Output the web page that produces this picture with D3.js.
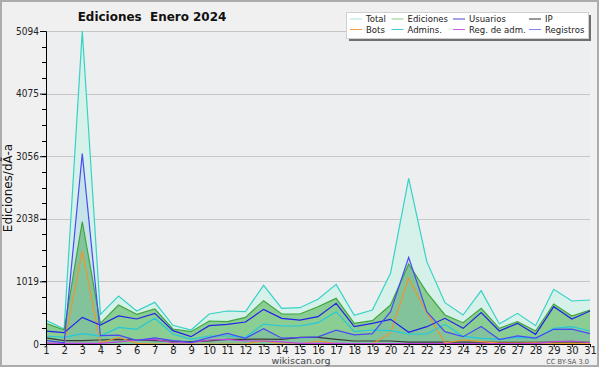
<!DOCTYPE html>
<html>
<head>
<meta charset="utf-8">
<script src="https://cdn.jsdelivr.net/npm/d3@7"></script>
<style>
  body { margin: 0; background: #fff; }
  svg text { font-family: "DejaVu Sans", sans-serif; }
</style>
</head>
<body>
<svg id="chart" width="600" height="370"></svg>
<script>
"use strict";

// data (edits per day, January 2024)
var days = [1,2,3,4,5,6,7,8,9,10,11,12,13,14,15,16,17,18,19,20,21,22,23,24,25,26,27,28,29,30,31];
var total     = [385,245,5094,483,781,537,678,304,228,488,537,526,955,580,591,727,971,467,553,1150,2696,1340,672,472,868,325,499,298,890,700,716];
var ediciones = [336,228,1990,336,634,483,570,244,201,374,363,434,705,488,488,607,743,336,380,634,1302,840,472,347,580,255,363,211,651,456,553];
var usuarios  = [211,184,434,309,456,407,499,217,119,298,320,358,564,418,390,445,662,282,336,401,190,282,418,255,510,211,336,157,607,407,537];
var ip        = [100,55,54,65,76,65,55,45,40,50,76,76,80,76,109,109,76,49,49,49,30,30,30,30,30,25,25,25,30,30,25];
var bots      = [5,0,1510,15,109,10,0,0,0,0,0,0,50,0,0,49,5,0,0,180,1075,510,20,65,38,15,15,20,10,10,5];
var admins    = [130,109,168,130,271,239,418,163,76,130,130,109,325,293,293,347,526,201,228,217,163,163,320,125,92,76,109,92,255,282,211];
var regAdm    = [15,10,10,10,33,65,76,20,20,65,76,49,49,33,10,10,10,5,5,5,5,5,5,5,5,5,5,5,38,49,20];
var registros = [60,20,3100,135,145,60,100,55,28,105,174,92,250,95,105,115,225,150,168,526,1410,526,201,119,285,72,133,95,239,242,168];

var yTicks = [0,1019,2038,3056,4075,5094];
var legendNames = ["Total","Ediciones","Usuarios","IP","Bots","Admins.","Reg. de adm.","Registros"];

var svg = d3.select("#chart");
var m = {left: 46, right: 590, top: 31, bottom: 344};

var x = d3.scaleLinear().domain([1, 31]).range([m.left, m.right]);
var y = d3.scaleLinear().domain([0, 5094]).range([m.bottom, m.top]);

// narrow text: no condensed font here, so squeeze horizontally
function narrowText(sel, tx, ty, sx, str) {
  return sel.append("text").attr("transform", "translate(" + tx + "," + ty + ") scale(" + sx + ",1)").text(str);
}

// frame
svg.append("rect").attr("x", 1).attr("y", 1).attr("width", 597).attr("height", 365)
   .attr("fill", "#f0f0f0").attr("stroke", "#acacac").attr("stroke-width", 2);
svg.append("rect").attr("x", m.left).attr("y", m.top).attr("width", m.right - m.left).attr("height", m.bottom - m.top)
   .attr("fill", "#eceef0");

// grid
svg.append("g").selectAll("line").data(yTicks.slice(1)).enter().append("line")
   .attr("x1", m.left).attr("x2", m.right)
   .attr("y1", function(d){ return Math.round(y(d)) + 0.5; })
   .attr("y2", function(d){ return Math.round(y(d)) + 0.5; })
   .attr("stroke", "#c6c6c6").attr("stroke-width", 1);

function series(vals) {
  return days.map(function(d, i){ return [d, vals[i]]; });
}
var area = d3.area().x(function(d){ return x(d[0]); }).y0(y(0)).y1(function(d){ return y(d[1]); });
var line = d3.line().x(function(d){ return x(d[0]); }).y(function(d){ return y(d[1]); });

// fills
svg.append("path").datum(series(total)).attr("d", area).attr("fill", "#d5f1e9");
svg.append("path").datum(series(ediciones)).attr("d", area).attr("fill", "rgba(70,175,70,0.52)");
svg.append("path").datum(series(registros)).attr("d", area).attr("fill", "rgba(60,90,230,0.09)");

// lines
var lines = [
  [total, "#36d2c6"],
  [ediciones, "#3fa63f"],
  [ip, "#3a3a3a"],
  [bots, "#ee9430"],
  [admins, "#22c8dc"],
  [regAdm, "#c040e0"],
  [usuarios, "#2222e6"],
  [registros, "#4a4af5"]
];
lines.forEach(function(l) {
  svg.append("path").datum(series(l[0])).attr("d", line)
     .attr("fill", "none").attr("stroke", l[1]).attr("stroke-width", 1.2);
});

// axes
var yAxis = d3.axisLeft(y).tickValues(yTicks).tickSize(6).tickPadding(1).tickFormat(d3.format("d"));
var gy = svg.append("g").attr("transform", "translate(" + m.left + ",0)").call(yAxis);
gy.select(".domain").attr("stroke", "#000");
gy.selectAll("text").attr("font-size", 10).attr("fill", "#222")
  .attr("transform", "translate(-7,0) scale(0.9,1) translate(7,0)");

var minor = d3.range(0, 21).map(function(i){ return i * 5094 / 20; });
svg.append("g").selectAll("line").data(minor).enter().append("line")
   .attr("x1", m.left - 4).attr("x2", m.left)
   .attr("y1", function(d){ return Math.round(y(d)) + 0.5; })
   .attr("y2", function(d){ return Math.round(y(d)) + 0.5; })
   .attr("stroke", "#000");

var xAxis = d3.axisBottom(x).tickValues(days).tickSize(3).tickPadding(0).tickFormat(d3.format("d"));
var gx = svg.append("g").attr("transform", "translate(0," + m.bottom + ")").call(xAxis);
gx.select(".domain").attr("stroke", "#000");
gx.selectAll("text").attr("font-size", 10).attr("fill", "#222");

// titles
narrowText(svg, 152, 21, 0.92, "Ediciones  Enero 2024")
   .attr("text-anchor", "middle").attr("font-size", 13).attr("font-weight", "bold")
   .attr("fill", "#111").style("white-space", "pre");

svg.append("text").attr("transform", "translate(12,188) rotate(-90)").attr("text-anchor", "middle")
   .attr("font-size", 12).attr("fill", "#111").text("Ediciones/dÃ-a");

svg.append("text").attr("x", 301).attr("y", 364).attr("text-anchor", "middle")
   .attr("font-size", 9.5).attr("fill", "#444").text("wikiscan.org");
narrowText(svg, 589, 364, 0.95, "CC BY-SA 3.0")
   .attr("text-anchor", "end").attr("font-size", 7).attr("fill", "#555");

// legend
var lg = svg.append("g");
lg.append("rect").attr("x", 349).attr("y", 15).attr("width", 242).attr("height", 26).attr("fill", "#707070");
lg.append("rect").attr("x", 346.5).attr("y", 12.5).attr("width", 242).attr("height", 26)
  .attr("fill", "#fff").attr("stroke", "#d0d0d0");
var legendColors = ["#a8e8e0","#88cc88","#4646d0","#333333","#f0a040","#44c8e0","#c060e0","#8484f0"];
var colX = [350, 391.5, 453, 529];
legendNames.forEach(function(name, i) {
  var col = i % 4, row = Math.floor(i / 4);
  var ly = 19 + row * 10.5;
  lg.append("line").attr("x1", colX[col]).attr("x2", colX[col] + 12)
    .attr("y1", ly).attr("y2", ly).attr("stroke", legendColors[i]).attr("stroke-width", 1);
  narrowText(lg, colX[col] + 16, ly + 3.3, 0.9, name)
    .attr("font-size", 9.5).attr("fill", "#222");
});
</script>
</body>
</html>
